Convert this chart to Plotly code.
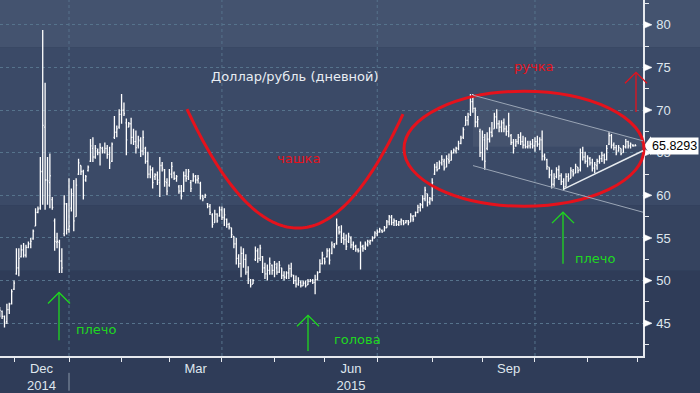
import pandas as pd
import plotly.graph_objects as go

# ---------------- data ----------------
start_date = "2014-11-21"
open_ = [46.0,46.4,45.8,45.2,46.6,47.3,49.0,50.8,51.5,52.8,53.6,53.0,53.9,54.3,54.9,56.4,58.0,58.5,62.8,68.0,
         61.8,61.5,59.5,57.0,54.5,54.5,52.3,55.5,59.0,56.0,58.5,60.0,57.5,62.5,63.5,62.8,61.8,62.9,64.0,65.5,
         64.5,65.2,65.0,65.5,65.0,65.5,64.8,64.0,66.8,67.4,68.0,69.5,70.0,68.5,68.0,68.4,66.8,66.3,65.8,66.4,
         65.2,65.5,64.0,62.5,63.0,62.2,62.4,61.5,63.5,63.0,61.5,61.2,62.5,62.6,62.0,61.0,60.5,60.5,62.3,62.2,
         61.5,61.7,62.2,61.8,61.4,60.0,59.8,59.0,58.7,57.7,56.8,57.8,57.6,58.3,57.4,57.2,56.6,56.2,55.2,54.3,
         52.6,52.0,53.2,52.5,51.0,50.0,49.6,52.5,53.5,52.6,52.8,51.5,50.8,51.2,51.8,51.2,51.5,51.0,51.5,50.6,
         50.4,50.9,51.4,50.6,50.0,49.6,49.8,49.4,49.7,49.5,49.9,50.0,49.8,50.1,51.0,52.0,52.6,52.8,53.5,53.2,
         54.0,54.4,56.2,55.7,55.0,54.8,54.6,55.0,54.2,54.0,53.6,53.5,54.0,53.8,54.2,54.5,54.7,55.0,55.5,55.7,
         55.9,55.8,56.2,56.9,57.4,56.8,57.0,56.6,56.9,57.0,56.8,57.0,56.9,57.5,57.6,58.0,58.6,58.9,59.6,60.2,
         59.2,59.6,62.5,63.3,63.1,63.8,64.0,63.3,64.2,64.1,65.0,65.2,65.5,66.1,66.8,68.2,68.8,69.5,71.0,70.2,
         68.6,67.5,65.0,66.5,65.5,66.6,67.4,67.8,69.2,68.4,68.0,68.5,67.8,67.5,67.0,66.2,65.8,66.3,66.8,66.3,
         65.9,65.7,65.8,66.0,65.8,66.3,66.0,66.5,64.6,64.2,63.3,62.4,61.3,62.2,63.0,62.3,61.6,61.0,62.2,62.0,
         62.8,62.6,63.3,63.0,65.0,64.5,64.0,64.3,63.8,63.2,63.5,64.0,64.3,64.7,64.2,66.0,67.0,65.9,65.6,65.2,
         65.5,65.0,65.7,66.3,65.8,65.9,65.8]
high = [46.9,46.5,45.9,47.3,47.4,49.0,50.0,53.8,53.8,54.2,54.4,54.2,54.6,55.0,56.0,58.5,58.7,64.5,79.4,73.2,
        64.5,64.9,59.8,57.3,55.6,54.8,53.8,60.0,59.1,62.0,60.8,61.8,62.0,64.3,63.5,63.0,62.4,63.5,66.6,66.8,
        65.9,65.5,66.1,65.7,66.2,65.9,65.7,66.2,69.3,68.2,70.1,71.9,70.9,69.0,68.6,69.1,67.8,67.6,67.0,66.8,
        67.6,65.7,65.1,63.5,63.3,62.6,62.8,64.5,63.9,63.1,62.0,63.1,63.9,62.8,62.4,61.2,61.2,62.8,63.1,63.1,
        61.8,62.6,62.4,62.4,61.6,60.0,60.2,59.1,59.0,57.9,58.3,57.9,58.7,58.7,58.5,57.3,56.8,56.2,55.2,55.0,
        53.1,54.0,53.8,53.1,51.7,50.2,50.2,54.0,53.8,54.2,52.9,52.1,51.9,52.7,51.9,52.3,52.1,52.3,51.5,51.1,
        51.1,51.9,52.1,50.7,50.6,50.4,50.0,50.0,50.0,50.2,50.2,50.2,50.7,51.1,52.5,53.4,52.7,53.8,53.8,54.6,
        54.4,57.3,56.4,56.5,55.6,55.4,55.6,55.2,54.6,54.2,53.8,54.6,54.2,54.6,54.8,54.8,55.2,55.8,56.0,56.2,
        56.0,56.4,57.1,57.7,57.7,57.3,57.1,57.0,57.3,57.1,57.1,57.1,57.9,57.7,58.1,58.9,59.1,60.0,61.0,60.2,
        59.8,62.0,63.7,63.9,64.1,64.7,64.3,64.7,64.9,65.3,65.5,65.7,66.4,67.0,68.0,69.3,69.7,71.9,71.9,70.3,
        69.3,67.8,67.6,67.2,67.4,68.0,68.6,69.7,70.1,68.8,68.8,69.0,68.2,69.7,67.2,66.6,66.6,67.2,67.4,67.0,
        66.8,66.4,66.4,66.6,66.8,67.0,66.8,67.6,64.9,64.3,63.3,63.0,62.6,63.3,63.5,62.6,62.0,62.6,62.6,63.3,
        63.1,63.7,63.3,65.5,65.7,65.1,64.7,64.5,64.3,63.9,64.3,64.7,65.1,64.9,65.9,67.4,67.2,66.2,65.9,65.9,
        65.5,65.9,66.6,66.4,66.2,66.0,66.0]
low = [45.7,45.5,44.5,44.9,46.1,47.2,48.9,50.7,50.5,52.7,52.7,52.7,53.8,53.8,54.8,56.4,57.9,58.3,58.9,58.3,
       58.9,58.5,58.3,53.5,53.8,50.9,50.9,55.2,55.4,55.6,58.1,55.8,57.5,62.4,62.4,59.5,61.6,62.8,63.9,63.9,
       64.3,64.7,63.5,64.9,64.9,64.3,63.1,63.9,66.6,66.8,67.8,68.4,69.3,64.7,68.0,66.0,65.9,64.9,65.5,64.5,
       64.7,63.7,62.0,62.0,60.8,61.8,61.2,59.8,62.8,61.0,60.0,61.0,62.0,61.8,61.6,60.2,59.5,60.4,61.6,61.8,
       60.4,61.6,61.4,61.4,59.5,59.3,59.7,58.5,57.7,56.2,56.8,56.8,57.5,57.1,56.4,56.2,56.0,55.0,53.8,51.9,
       51.5,50.4,51.5,50.7,49.6,49.2,49.6,52.3,52.1,52.3,50.9,50.2,50.0,50.7,50.7,50.4,50.7,50.9,50.2,50.0,
       50.2,50.2,50.4,49.6,49.2,49.4,49.2,49.4,49.2,49.5,49.8,49.6,48.4,50.0,50.9,51.9,51.9,52.7,51.9,53.1,
       53.8,54.2,55.4,54.4,54.2,53.6,54.4,53.8,53.6,53.4,53.3,51.3,53.4,53.6,54.0,54.2,54.6,55.0,55.2,55.6,
       55.6,55.8,56.2,56.5,56.5,56.4,56.4,56.4,56.5,56.5,56.7,56.5,56.9,56.9,57.5,57.9,58.1,58.5,59.3,58.7,
       58.9,59.3,62.4,62.8,63.1,63.5,62.9,63.3,63.7,64.1,64.9,64.9,65.3,66.0,66.6,68.2,68.2,69.3,69.7,68.0,
       68.0,64.5,64.1,63.0,65.3,66.2,66.8,67.8,67.8,67.4,67.4,67.4,67.0,66.8,65.9,64.9,65.7,66.0,65.9,65.5,
       65.5,65.5,65.5,65.5,65.1,65.7,65.3,64.1,64.1,63.0,62.0,60.8,61.0,62.0,61.8,61.2,60.6,61.0,61.6,62.0,
       62.2,62.6,62.6,62.8,64.1,63.7,63.3,63.5,62.8,62.6,63.0,63.7,63.9,63.7,64.1,65.9,65.5,65.3,64.7,65.1,
       64.7,65.0,65.5,65.5,65.5,65.7,65.75]
close = [46.5,45.8,45.0,46.6,47.2,48.7,49.7,51.5,52.6,53.6,53.0,53.9,54.3,54.6,55.8,58.0,58.4,62.8,68.2,61.8,
         61.7,62.3,58.6,54.6,54.6,52.3,51.5,59.0,56.0,56.4,60.2,57.0,61.2,63.8,62.8,60.0,62.2,63.3,65.8,64.5,
         65.5,65.0,65.6,65.2,65.5,64.8,63.8,66.0,67.4,67.8,69.5,70.0,69.6,66.5,68.4,66.8,66.3,65.6,66.5,65.2,
         66.8,64.0,62.5,63.0,61.5,62.4,61.8,63.5,63.2,61.6,60.5,62.5,63.4,62.0,62.2,60.5,59.9,62.3,62.0,62.8,
         60.8,62.3,61.8,62.0,59.9,59.6,60.0,58.7,58.0,56.6,57.8,57.0,58.3,57.4,57.7,56.6,56.3,55.4,54.3,52.6,
         52.0,53.2,52.5,51.0,50.2,49.5,50.0,53.5,52.6,53.8,51.5,50.8,51.2,52.0,51.2,51.9,51.0,51.8,50.6,50.4,
         50.9,51.4,50.7,50.0,49.6,50.0,49.4,49.7,49.4,49.9,50.0,49.8,50.1,50.9,52.0,53.0,52.2,53.5,52.4,54.2,
         54.2,56.5,55.7,55.0,54.8,54.0,55.2,54.2,54.0,53.7,53.5,54.0,53.8,54.3,54.6,54.7,55.0,55.6,55.7,56.0,
         55.7,56.2,56.9,57.5,56.8,57.0,56.6,56.9,57.1,56.7,57.0,56.8,57.6,57.2,58.0,58.6,58.9,59.6,60.6,59.2,
         59.6,61.5,63.3,63.0,63.8,64.2,63.2,64.3,64.0,64.9,65.3,65.5,66.1,66.7,67.7,68.8,69.2,71.0,70.2,68.6,
         68.9,65.0,66.8,64.0,66.6,67.4,67.0,69.2,68.4,68.0,68.5,67.8,67.5,68.2,66.2,65.5,66.3,66.8,66.3,65.9,
         65.7,65.8,66.0,65.8,66.3,66.0,66.5,64.6,64.4,63.4,62.4,61.3,62.0,63.0,62.3,61.6,61.0,62.2,61.9,62.9,
         62.5,63.4,62.9,65.0,64.5,64.0,64.4,63.8,63.2,63.6,64.0,64.3,64.7,64.2,65.5,67.0,65.9,65.6,65.0,65.6,
         64.9,65.7,66.3,65.8,66.0,65.8,65.8293]
dates = pd.bdate_range(start_date, periods=len(close))

y_ticks = [45, 50, 55, 60, 65, 70, 75, 80]
y_minor = [42.5, 47.5, 52.5, 57.5, 62.5, 67.5, 72.5, 77.5, 82.5]
month_starts = ["2014-12-01", "2015-01-01", "2015-02-02", "2015-03-02", "2015-04-01", "2015-05-01",
                "2015-06-01", "2015-07-01", "2015-08-03", "2015-09-01", "2015-10-01", "2015-11-02",
                "2015-12-01"]
label_dates = ["2014-12-16 12:00", "2015-03-17", "2015-06-16", "2015-09-16"]
label_text = ["Dec<br>2014", "Mar", "Jun<br>2015", "Sep"]
quarter_lines = ["2015-01-01", "2015-04-01", "2015-07-01", "2015-10-01"]
last_price = close[-1]

# ---------------- geometry helpers ----------------
W, H = 700, 393
ML, MR, MT, MB = 0, 57, 0, 34
PW, PH = W - ML - MR, H - MT - MB


def fx(x):
    return x / PW


def fy(y):
    return 1 - y / PH


GRID = "#56738c"
RED = "#e5121c"
GREEN = "#1fd81f"
TXT = "#dfe6ee"

shapes = []
# background bands
bands = [(0, 48, "#44536f"), (48, 207, "#3b4a67"), (207, 273, "#35435f"), (273, 394, "#2f3c58")]
for y0, y1, col in bands:
    shapes.append(dict(type="rect", xref="paper", yref="paper", x0=fx(-1), x1=fx(W + 1),
                       y0=fy(y1), y1=fy(y0), fillcolor=col, line=dict(width=0), layer="below"))
# highlighted handle zone
shapes.append(dict(type="path", xref="paper", yref="paper",
                   path=f"M{fx(473)},{fy(96)} L{fx(643)},{fy(142)} L{fx(643)},{fy(148)} L{fx(473)},{fy(148)} Z",
                   fillcolor="rgba(255,255,255,0.05)", line=dict(width=0), layer="below"))
# quarterly vertical grid lines
for d in quarter_lines:
    shapes.append(dict(type="line", xref="x", yref="paper", x0=d, x1=d, y0=0, y1=1,
                       line=dict(color=GRID, width=1, dash="3px,3px"), layer="below"))
# year separator under the axis
shapes.append(dict(type="line", xref="x", yref="paper", x0="2015-01-01", x1="2015-01-01",
                   y0=fy(376), y1=fy(394), line=dict(color="#8a97a8", width=1)))
# right-axis tick flags
for v in y_ticks:
    shapes.append(dict(type="path", xref="paper", yref="y", xsizemode="pixel", ysizemode="pixel",
                       xanchor=1, yanchor=v, path="M 1 -3.5 L 9 0 L 1 3.5 Z",
                       fillcolor="white", line=dict(color="white", width=0.5)))
# last price pointer
shapes.append(dict(type="path", xref="paper", yref="y", xsizemode="pixel", ysizemode="pixel",
                   xanchor=1, yanchor=last_price, path="M 1 0 L 8 -9.5 L 8 9.5 Z",
                   fillcolor="white", line=dict(width=0)))

# cup (red U)
pts = []
for i in range(0, 109):
    x = 187 + 2 * i
    if x <= 298:
        y = 230 - 120 * ((x - 298) / 111) ** 2
    else:
        y = 230 - 115 * ((x - 298) / 105) ** 2
    pts.append(f"{fx(x):.5f},{fy(y):.5f}")
shapes.append(dict(type="path", xref="paper", yref="paper", path="M" + " L".join(pts),
                   line=dict(color=RED, width=3)))
# handle ellipse
shapes.append(dict(type="circle", xref="paper", yref="paper", x0=fx(404), x1=fx(644),
                   y0=fy(208), y1=fy(92), line=dict(color=RED, width=3)))
# channel and support lines
for (x0, y0, x1, y1, col, w) in [(473, 96, 643, 142, "#9aa5b5", 1), (473, 167, 643, 214, "#9aa5b5", 1),
                                 (563, 191, 643, 152, "#e8ecf0", 1.5)]:
    shapes.append(dict(type="line", xref="paper", yref="paper", x0=fx(x0), y0=fy(y0), x1=fx(x1), y1=fy(y1),
                       line=dict(color=col, width=w)))
# arrows
for (x, ytop, ybot, col) in [(59, 295, 343, GREEN), (308, 318, 354, GREEN), (563, 214, 266, GREEN),
                             (636, 73, 113, RED)]:
    shapes.append(dict(type="line", xref="paper", yref="paper", x0=fx(x), x1=fx(x), y0=fy(ytop), y1=fy(ybot),
                       line=dict(color=col, width=1.3)))
    shapes.append(dict(type="path", xref="paper", yref="paper",
                       path=f"M{fx(x - 11)},{fy(ytop + 11)} L{fx(x)},{fy(ytop)} L{fx(x + 11)},{fy(ytop + 11)}",
                       line=dict(color=col, width=1.3)))

annotations = []
for (txt, x, y, col) in [("Доллар/рубль (дневной)", 295, 77, "#e8edf3"), ("чашка", 298, 160, RED),
                         ("ручка", 533, 67, RED), ("плечо", 96, 332, GREEN), ("голова", 357, 342, GREEN),
                         ("плечо", 595, 261, GREEN)]:
    annotations.append(dict(text=txt, x=fx(x), y=fy(y), xref="paper", yref="paper", showarrow=False,
                            xanchor="center", yanchor="middle",
                            font=dict(family="DejaVu Sans", size=13, color=col)))
annotations.append(dict(text=f"{last_price:.4f}", x=1, y=last_price, xref="paper", yref="y", showarrow=False,
                        xanchor="left", yanchor="middle", xshift=7, bgcolor="white", borderpad=1,
                        font=dict(family="Liberation Sans", size=12.5, color="black")))

fig = go.Figure(go.Ohlc(
    x=dates, open=open_, high=high, low=low, close=close,
    increasing=dict(line=dict(color="white", width=1.3)),
    decreasing=dict(line=dict(color="white", width=1.3)),
    tickwidth=0.4, hoverinfo="skip", showlegend=False))

fig.update_layout(
    width=W, height=H, margin=dict(l=ML, r=MR, t=MT, b=MB),
    paper_bgcolor="#2f3c58", plot_bgcolor="rgba(0,0,0,0)",
    showlegend=False, hovermode=False,
    font=dict(family="Liberation Sans", size=13, color=TXT),
    shapes=shapes, annotations=annotations,
    xaxis=dict(type="date", range=["2014-11-21 03:00", "2015-12-03 05:00"],
               rangebreaks=[dict(bounds=["sat", "mon"])], rangeslider=dict(visible=False),
               showgrid=False, zeroline=False, showline=True, linecolor="#e6e9ee", linewidth=1.5,
               tickmode="array", tickvals=label_dates, ticktext=label_text, ticks="",
               tickfont=dict(family="Liberation Sans", size=13, color=TXT),
               minor=dict(tickmode="array", tickvals=month_starts, ticks="outside", ticklen=4,
                          tickcolor="#e6e9ee", tickwidth=1, showgrid=False)),
    yaxis=dict(side="right", range=[41.16, 82.91], tickmode="array", tickvals=y_ticks,
               ticks="outside", ticklen=9, tickcolor="rgba(0,0,0,0)",
               showgrid=True, gridcolor=GRID, griddash="3px,3px", gridwidth=1, zeroline=False,
               showline=True, linecolor="#e6e9ee", linewidth=1.5,
               tickfont=dict(family="Liberation Sans", size=13, color=TXT),
               minor=dict(tickmode="array", tickvals=y_minor, ticks="outside", ticklen=4,
                          tickcolor="#e6e9ee", tickwidth=1, showgrid=False)),
)

fig.write_html("out.html", config={"displayModeBar": False})
